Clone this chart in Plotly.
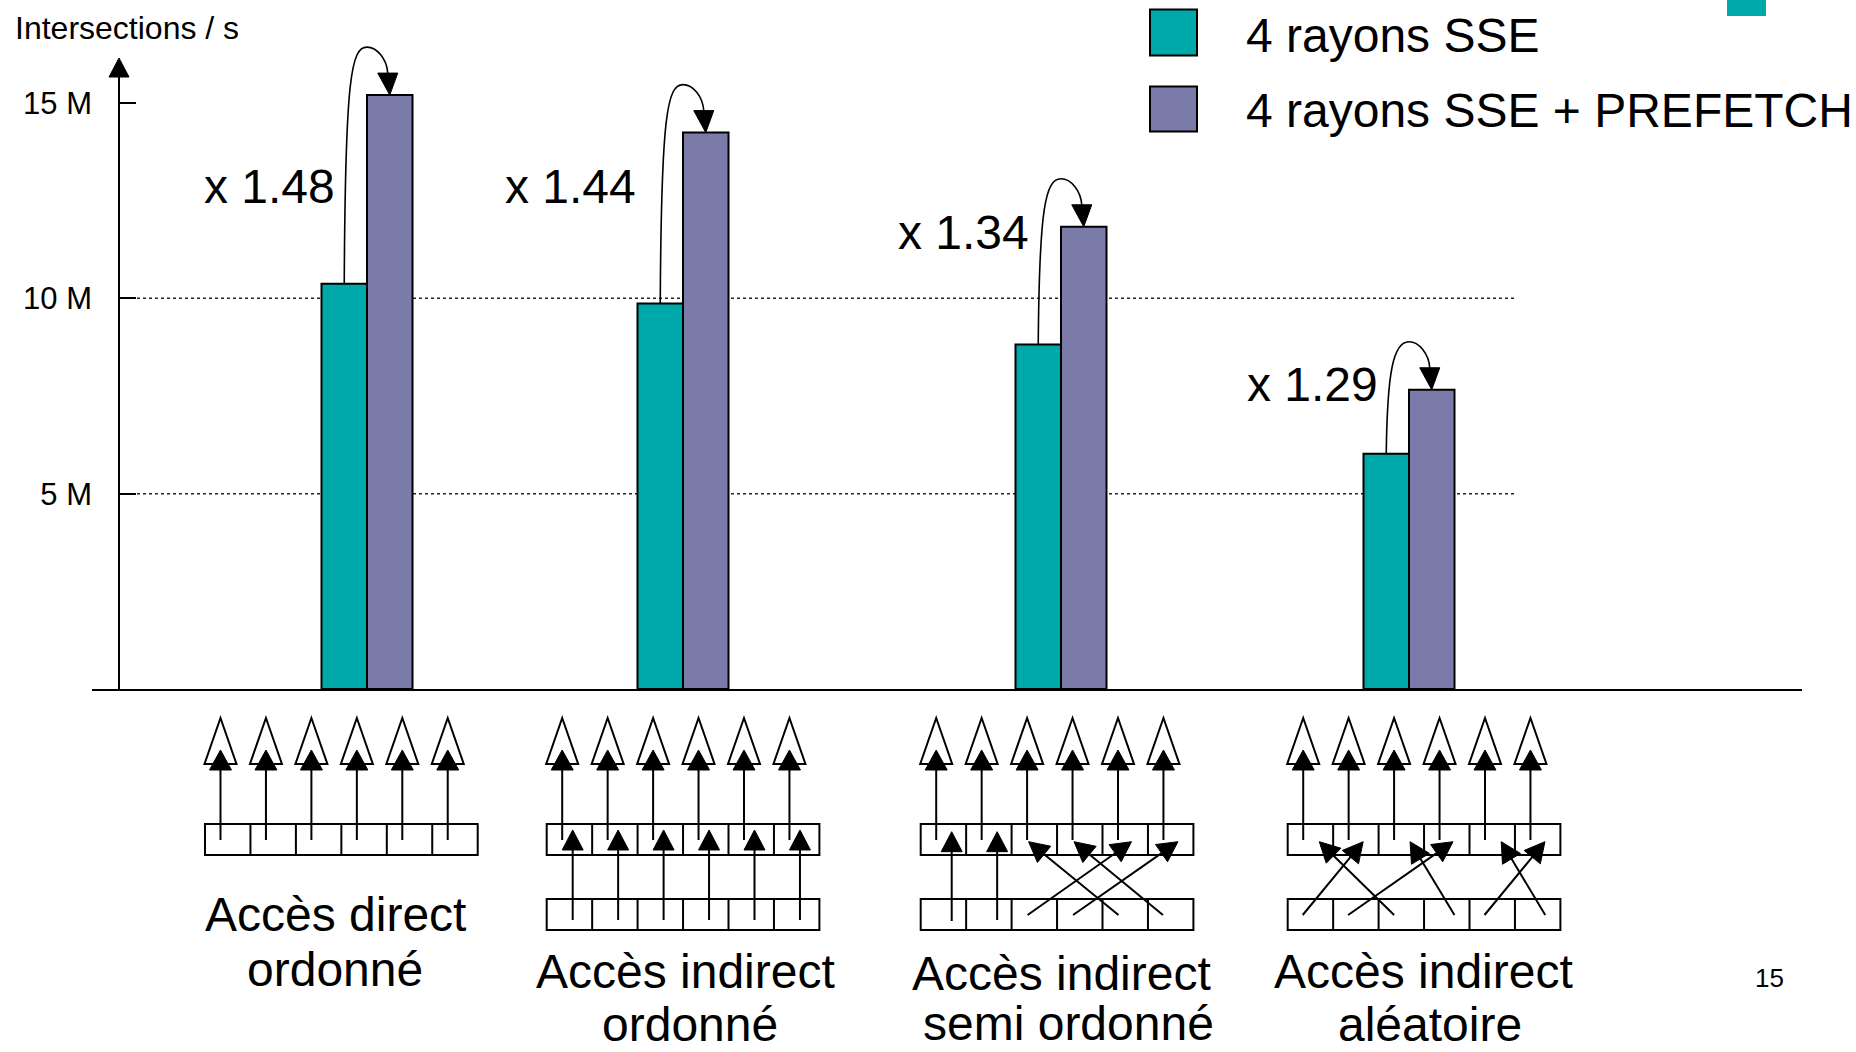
import math
import plotly.graph_objects as go

# ---------------- data ----------------
categories = ["Accès direct ordonné", "Accès indirect ordonné",
              "Accès indirect semi ordonné", "Accès indirect aléatoire"]
series_names = ["4 rayons SSE", "4 rayons SSE + PREFETCH"]
sse = [10.37, 9.87, 8.82, 6.02]              # millions of intersections / s
sse_prefetch = [15.2, 14.24, 11.83, 7.66]
speedup_labels = ["x 1.48", "x 1.44", "x 1.34", "x 1.29"]
label_line1 = ["Accès direct", "Accès indirect", "Accès indirect", "Accès indirect"]
label_line2 = ["ordonné", "ordonné", "semi ordonné", "aléatoire"]
y_tick_vals = [5, 10, 15]
y_tick_text = ["5 M", "10 M", "15 M"]
y_title = "Intersections / s"
page_number = "15"

# ---------------- layout constants ----------------
W, H = 1856, 1052
TEAL = "#00A9A9"
PURPLE = "#7B7BA9"
FONT = "Liberation Sans, Arial, sans-serif"

Y0_PX = 689.1          # pixel row of value 0
PX_PER_M = 39.08       # pixels per million
Y_TOP_PX = 58          # top of the y-axis arrow
X_LEFT, X_RIGHT = 92, 1802
Y_AXIS_X = 119
GROUP_X = [367, 683, 1061, 1409]   # horizontal position of each group (x-axis units)
BAR_W = 45.5
GRID_X0, GRID_X1 = 137, 1515

y_range_top = Y0_PX / PX_PER_M                 # plot area reaches the top of the page
y_arrow = (Y0_PX - Y_TOP_PX) / PX_PER_M        # value at the y-axis arrow tip


def dv(px):
    return px / PX_PER_M


def PX(x):
    return x / W


def PY(y):
    return 1 - y / H


fig = go.Figure()

fig.add_trace(go.Bar(
    x=GROUP_X, y=sse, width=BAR_W, offset=-BAR_W, name=series_names[0],
    marker=dict(color=TEAL, line=dict(color="black", width=2)), showlegend=False,
    hovertext=categories))
fig.add_trace(go.Bar(
    x=GROUP_X, y=sse_prefetch, width=BAR_W, offset=0, name=series_names[1],
    marker=dict(color=PURPLE, line=dict(color="black", width=2)), showlegend=False,
    hovertext=categories))

shapes = []
annotations = []

# dotted grid lines
for v in [5, 10]:
    shapes.append(dict(type="line", xref="x", yref="y", x0=GRID_X0, x1=GRID_X1, y0=v, y1=v,
                       line=dict(color="#222", width=1.5, dash="dot"), layer="below"))

# y-axis line + arrow head
shapes.append(dict(type="line", xref="x", yref="y", x0=Y_AXIS_X, x1=Y_AXIS_X,
                   y0=-dv(2.5), y1=y_arrow - dv(10), line=dict(color="black", width=2)))
shapes.append(dict(type="path", xref="x", yref="y",
                   path=f"M {Y_AXIS_X},{y_arrow} L {Y_AXIS_X-10},{y_arrow-dv(19)} L {Y_AXIS_X+10},{y_arrow-dv(19)} Z",
                   fillcolor="black", line=dict(color="black", width=1)))

# curved speed-up arrows
for i, gx in enumerate(GROUP_X):
    x0 = gx - BAR_W / 2
    y0 = sse[i]
    xt = gx + BAR_W / 2
    yt = sse_prefetch[i]
    yp = yt + dv(48)
    xb = xt - 2
    yb = yt + dv(22)
    p = (f"M {x0},{y0} C {x0+1},{yp-dv(30)} {x0+7},{yp} {gx},{yp} "
         f"C {gx+10},{yp} {xb-1},{yp-dv(12)} {xb},{yb}")
    shapes.append(dict(type="path", xref="x", yref="y", path=p,
                       line=dict(color="black", width=1.6)))
    shapes.append(dict(type="path", xref="x", yref="y",
                       path=f"M {xt},{yt} L {xb-10},{yb} L {xb+10},{yb} Z",
                       fillcolor="black", line=dict(color="black", width=1)))

# speed-up labels
SPEED_POS = [(337, 187), (638, 187), (1031, 232), (1380, 384)]
for txt, (x, y) in zip(speedup_labels, SPEED_POS):
    annotations.append(dict(text=txt, x=PX(x), y=PY(y), xref="paper", yref="paper",
                            xanchor="right", yanchor="middle", showarrow=False,
                            font=dict(family=FONT, size=48, color="black")))

# y title
annotations.append(dict(text=y_title, x=PX(13), y=PY(28), xref="paper", yref="paper",
                        xanchor="left", yanchor="middle", showarrow=False,
                        font=dict(family=FONT, size=32, color="black")))

# legend (manual)
LEG = [(9.5, 55.6, 35.7), (86.4, 131.4, 110.4)]
for (ya, yb_, yt_), col, name in zip(LEG, [TEAL, PURPLE], series_names):
    shapes.append(dict(type="rect", xref="paper", yref="paper",
                       x0=PX(1150), x1=PX(1197), y0=PY(yb_), y1=PY(ya),
                       fillcolor=col, line=dict(color="black", width=2)))
    annotations.append(dict(text=name, x=PX(1244), y=PY(yt_), xref="paper", yref="paper",
                            xanchor="left", yanchor="middle", showarrow=False,
                            font=dict(family=FONT, size=48, color="black")))

# teal fragment at top right
shapes.append(dict(type="rect", xref="paper", yref="paper",
                   x0=PX(1727), x1=PX(1766), y0=PY(16), y1=PY(0),
                   fillcolor=TEAL, line=dict(width=0)))

# page number
annotations.append(dict(text=page_number, x=PX(1769), y=PY(978), xref="paper", yref="paper",
                        xanchor="center", yanchor="middle", showarrow=False,
                        font=dict(family=FONT, size=26, color="black")))

# group labels under diagrams
LABEL_POS = [((335, 914), (335, 969)),
             ((685, 971), (690, 1024)),
             ((1061, 973), (1068, 1023)),
             ((1423, 971), (1430, 1024))]
for l1, l2, (p1, p2) in zip(label_line1, label_line2, LABEL_POS):
    for t, (x, y) in [(l1, p1), (l2, p2)]:
        annotations.append(dict(text=t, x=PX(x), y=PY(y), xref="paper", yref="paper",
                                xanchor="center", yanchor="middle", showarrow=False,
                                font=dict(family=FONT, size=48, color="black")))

# ---------------- access pattern diagrams ----------------
DIAG_LEFT = [205, 546.7, 920.7, 1287.7]
CELL_W = 45.45
TOP_ROW = (824, 855)
BOT_ROW = (899, 930)
TOP_ARROW_OFF = 15.5
# lower arrows: (start cell, start offset, start y, tip cell, tip offset, tip y)
LOWER = [
    [],
    [(j, 26, 920, j, 26, 830) for j in range(6)],
    [(0, 31, 921, 0, 31, 831.7), (1, 31, 920, 1, 31, 831.7),
     (2, 16, 915, 4, 29, 841.7), (3, 16, 915, 5, 30, 841.7),
     (4, 16, 915, 2, 17, 841.7), (5, 15, 915, 3, 17, 841.7)],
    [(0, 15, 915, 1, 30, 841.7), (1, 15, 915, 3, 29, 841.7),
     (2, 15.5, 915, 0, 31.6, 841.7), (3, 30.4, 915, 2, 31.5, 841.7),
     (4, 15, 915, 5, 30, 841.7), (5, 30.3, 915, 4, 31.7, 841.7)],
]


def pt(x, y):
    return f"{PX(x):.5f},{PY(y):.5f}"


def head(sx, sy, tx, ty, length=20, hw=10.5):
    dx, dy = tx - sx, ty - sy
    n = math.hypot(dx, dy)
    ux, uy = dx / n, dy / n
    bx, by = tx - length * ux, ty - length * uy
    nx, ny = -uy, ux
    return (f"M {pt(tx, ty)} L {pt(bx + hw*nx, by + hw*ny)} L {pt(bx - hw*nx, by - hw*ny)} Z",
            (bx, by))


box_path = []
hollow_path = []
line_path = []
fill_path = []
for d, L in enumerate(DIAG_LEFT):
    rows = [TOP_ROW] + ([BOT_ROW] if LOWER[d] else [])
    for (ya, yb_) in rows:
        for k in range(6):
            xa = L + k * CELL_W
            xb2 = xa + CELL_W
            box_path.append(f"M {pt(xa, ya)} L {pt(xb2, ya)} L {pt(xb2, yb_)} L {pt(xa, yb_)} Z")
    for k in range(6):
        ax = L + k * CELL_W + TOP_ARROW_OFF
        hollow_path.append(f"M {pt(ax, 718)} L {pt(ax+16, 764)} L {pt(ax-16, 764)} Z")
        line_path.append(f"M {pt(ax, 840)} L {pt(ax, 766)}")
        fill_path.append(f"M {pt(ax, 750)} L {pt(ax+11, 770)} L {pt(ax-11, 770)} Z")
    for (sc, so, sy, tc, to, ty) in LOWER[d]:
        sx = L + sc * CELL_W + so
        tx = L + tc * CELL_W + to
        hp, (bx, by) = head(sx, sy, tx, ty)
        line_path.append(f"M {pt(sx, sy)} L {pt(bx, by)}")
        fill_path.append(hp)

shapes.append(dict(type="path", xref="paper", yref="paper", path=" ".join(hollow_path),
                   fillcolor="white", line=dict(color="black", width=2)))
shapes.append(dict(type="path", xref="paper", yref="paper", path=" ".join(box_path),
                   fillcolor="rgba(0,0,0,0)", line=dict(color="black", width=2)))
shapes.append(dict(type="path", xref="paper", yref="paper", path=" ".join(line_path),
                   line=dict(color="black", width=2)))
shapes.append(dict(type="path", xref="paper", yref="paper", path=" ".join(fill_path),
                   fillcolor="black", line=dict(color="black", width=1)))

fig.update_layout(
    width=W, height=H,
    margin=dict(l=0, r=0, t=0, b=0),
    paper_bgcolor="white", plot_bgcolor="white",
    barmode="overlay",
    showlegend=False,
    xaxis=dict(domain=[X_LEFT / W, X_RIGHT / W], range=[X_LEFT, X_RIGHT],
               showline=True, linecolor="black", linewidth=2, showticklabels=False,
               ticks="", showgrid=False, zeroline=False, anchor="y", fixedrange=True),
    yaxis=dict(domain=[(H - Y0_PX) / H, 1], range=[0, y_range_top],
               anchor="free", position=Y_AXIS_X / W,
               showline=False,
               ticks="inside", ticklen=16, tickwidth=2, tickcolor="black",
               tickvals=y_tick_vals, ticktext=y_tick_text, ticklabelstandoff=27,
               tickfont=dict(family=FONT, size=31, color="black"),
               showgrid=False, zeroline=False, fixedrange=True),
    shapes=shapes,
    annotations=annotations,
)

fig.write_html("out.html")
